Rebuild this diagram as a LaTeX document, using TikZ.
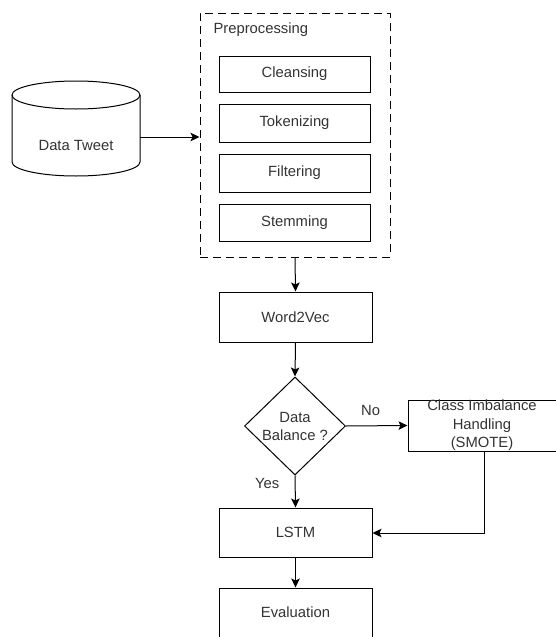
\documentclass[tikz,border=0pt]{standalone}
\usepackage{fontspec}
\setmainfont{Liberation Sans}
\usetikzlibrary{arrows.meta,shapes.geometric}
\begin{document}
\begin{tikzpicture}[x=1pt,y=-1pt,
  every node/.style={font=\fontsize{14.8}{17}\selectfont, text=black!80},
  box/.style={draw, line width=1pt, minimum width=#1, inner sep=0pt},
  arr/.style={line width=1pt, -{Stealth[length=9pt,width=8.5pt,inset=2pt]}},
  dashbox/.style={draw, line width=1pt, dash pattern=on 8pt off 5pt}
]
\useasboundingbox (0,0) rectangle (556,637);
\clip (0,0) rectangle (556,637);
% preprocessing container
\node[dashbox, minimum width=190pt, minimum height=244pt, inner sep=0pt] (pre) at (295,135) {};
\node[anchor=west] (pretitle) at (210,30) {Preprocessing};
\node[box=151pt, minimum height=36pt] (clean) at (294.5,74) {Cleansing};
\node[box=151pt, minimum height=38pt] (tok) at (294.5,123) {Tokenizing};
\node[box=151pt, minimum height=38pt] (filt) at (294.5,173) {Filtering};
\node[box=151pt, minimum height=37pt] (stem) at (294.5,222.5) {Stemming};
% cylinder
\draw[line width=1pt] (12,95) -- (12,162) arc[start angle=180,end angle=0,x radius=64,y radius=14] -- (140,95);
\draw[line width=1pt] (76,95) ellipse[x radius=64,y radius=14];
\node[minimum width=128pt, minimum height=95pt, inner sep=0pt] (tweet) at (76,128.5) {};
\node (tweettxt) at (76,145) {Data Tweet};
\draw[arr] (tweet.east |- 0,137) -- (pre.west |- 0,137);
% main flow
\node[box=153pt, minimum height=50pt] (w2v) at (295.5,317) {Word2Vec};
\draw[arr] (pre.south) -- (w2v.north);
\node[draw, line width=1pt, diamond, aspect=1.03, minimum width=101pt, minimum height=98pt, inner sep=0pt] (bal) at (295,426) {};
\node[align=center, font=\fontsize{14.8}{18}\selectfont] (baltxt) at (295,426) {Data\\Balance ?};
\draw[arr] (w2v.south) -- (bal.north);
\node[box=148pt, minimum height=51pt, align=center, font=\fontsize{14.8}{18.5}\selectfont] (smote) at (482,425.5) {Class Imbalance\\Handling\\(SMOTE)};
\draw[arr] (bal.east) -- (smote.west) node[pos=0.4, above=6pt] (no) {No};
\node[box=153pt, minimum height=49pt] (lstm) at (295.5,532.5) {LSTM};
\draw[arr] (bal.south) -- (lstm.north) node[pos=0.25, left=12pt] (yes) {Yes};
\coordinate (corner) at (484,533);
\draw[arr] (484,451) -- (corner) -- (lstm.east |- corner);
\node[box=153pt, minimum height=60pt] (eval) at (295.5,618) {};
\node (evaltxt) at (295.5,612) {Evaluation};
\draw[arr] (lstm.south) -- (eval.north);
\end{tikzpicture}
\end{document}
